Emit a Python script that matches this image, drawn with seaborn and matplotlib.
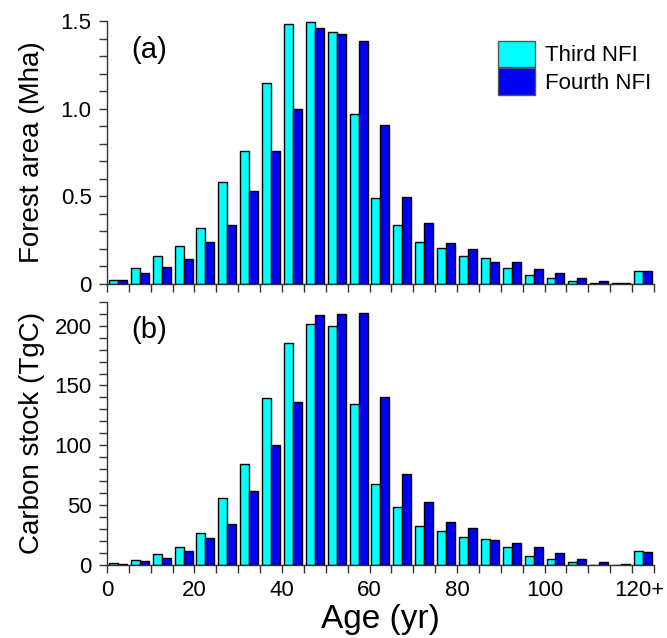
import numpy as np
import pandas as pd
import matplotlib
matplotlib.use('Agg')
import matplotlib.pyplot as plt
import matplotlib.transforms as mtransforms
from matplotlib.ticker import MultipleLocator, FixedLocator
import seaborn as sns

# age classes (5-yr bins, last one is 120+)
age_class = ['0-5', '5-10', '10-15', '15-20', '20-25', '25-30', '30-35', '35-40', '40-45', '45-50',
             '50-55', '55-60', '60-65', '65-70', '70-75', '75-80', '80-85', '85-90', '90-95', '95-100',
             '100-105', '105-110', '110-115', '115-120', '120+']

# forest area (Mha)
area_third = [0.02, 0.09, 0.16, 0.215, 0.32, 0.58, 0.76, 1.145, 1.48, 1.495, 1.435, 0.97, 0.49,
              0.336, 0.237, 0.203, 0.158, 0.148, 0.089, 0.051, 0.034, 0.017, 0.004, 0.004, 0.072]
area_fourth = [0.02, 0.065, 0.097, 0.144, 0.237, 0.334, 0.532, 0.758, 0.999, 1.458, 1.428, 1.384, 0.909,
               0.496, 0.346, 0.234, 0.199, 0.125, 0.125, 0.087, 0.063, 0.032, 0.015, 0.004, 0.072]

# carbon stock (TgC)
carbon_third = [1.4, 3.9, 8.9, 15.3, 26.9, 55.8, 84.2, 139.7, 185.3, 201.1, 199.4, 134.4, 67.5,
                48.6, 32.2, 28.6, 23.1, 21.4, 15.0, 7.2, 5.0, 2.5, 0.3, 0.3, 11.4]
carbon_fourth = [0.8, 3.3, 6.1, 11.9, 22.2, 34.2, 61.7, 100.6, 136.4, 209.2, 209.7, 210.6, 140.6,
                 75.8, 52.5, 35.6, 30.6, 20.8, 18.3, 14.7, 9.7, 5.0, 2.2, 0.6, 10.6]

inventories = ['Third NFI', 'Fourth NFI']
colors = ['#00FFFF', '#0000F5']

df = pd.DataFrame({
    'age': age_class * 2,
    'inv': [inventories[0]] * len(age_class) + [inventories[1]] * len(age_class),
    'area': area_third + area_fourth,
    'carbon': carbon_third + carbon_fourth,
})

sns.set_style('ticks')
plt.rcParams['font.family'] = ['Liberation Sans', 'DejaVu Sans']
plt.rcParams['text.color'] = 'black'
plt.rcParams['axes.labelcolor'] = 'black'
plt.rcParams['xtick.color'] = 'black'
plt.rcParams['ytick.color'] = 'black'

fig = plt.figure(figsize=(6.67, 6.38), dpi=100)
ax_a = fig.add_axes([0.1604, 0.5549, 0.820, 0.4122])
ax_b = fig.add_axes([0.1604, 0.1144, 0.820, 0.4127])

sns.barplot(data=df, x='age', y='area', hue='inv', palette=colors, order=age_class,
            hue_order=inventories, width=0.82, saturation=1, edgecolor='black', linewidth=1,
            ax=ax_a, errorbar=None)
sns.barplot(data=df, x='age', y='carbon', hue='inv', palette=colors, order=age_class,
            hue_order=inventories, width=0.82, saturation=1, edgecolor='black', linewidth=1,
            ax=ax_b, errorbar=None, legend=False)

n = len(age_class)
major_pos = [-0.5 + 4 * k for k in range(7)]
major_lab = ['0', '20', '40', '60', '80', '100', '120+']

for ax in (ax_a, ax_b):
    sns.despine(ax=ax)
    ax.set_xlim(-0.5, n - 0.5)
    ax.xaxis.set_major_locator(FixedLocator(major_pos))
    ax.xaxis.set_minor_locator(FixedLocator([k - 0.5 for k in range(n + 1)]))
    ax.tick_params(axis='both', which='both', direction='out', length=6, width=1, color='#333333')
    ax.tick_params(axis='both', which='major', labelsize=16, pad=5, labelcolor='black')
    for s in ('left', 'bottom'):
        ax.spines[s].set_linewidth(1)
        ax.spines[s].set_color('#333333')
    ax.set_xlabel('')

ax_a.set_xticklabels([])
ax_b.set_xticklabels(major_lab)
# nudge "120+" so the number sits on the tick
lbl = ax_b.get_xticklabels()[-1]
lbl.set_transform(lbl.get_transform() + mtransforms.ScaledTranslation(7 / 100, 0, fig.dpi_scale_trans))

ax_a.set_ylim(0, 1.5)
ax_a.set_yticks([0, 0.5, 1.0, 1.5])
ax_a.set_yticklabels(['0', '0.5', '1.0', '1.5'])
ax_a.yaxis.set_minor_locator(MultipleLocator(0.1))

ax_b.set_ylim(0, 220)
ax_b.set_yticks([0, 50, 100, 150, 200])
ax_b.set_yticklabels(['0', '50', '100', '150', '200'])
ax_b.yaxis.set_minor_locator(MultipleLocator(10))

ax_a.set_ylabel('Forest area (Mha)', fontsize=20)
ax_b.set_ylabel('Carbon stock (TgC)', fontsize=20)
ax_a.yaxis.set_label_coords(-0.113, 0.5)
ax_b.yaxis.set_label_coords(-0.113, 0.5)
ax_b.set_xlabel('Age (yr)', fontsize=24, labelpad=2)

ax_a.text(0.077, 0.89, '(a)', transform=ax_a.transAxes, fontsize=21, ha='center', va='center')
ax_b.text(0.077, 0.893, '(b)', transform=ax_b.transAxes, fontsize=21, ha='center', va='center')

leg = ax_a.legend(loc='upper left', bbox_to_anchor=(0.715, 0.925), frameon=False, fontsize=16,
                  handlelength=1.65, handleheight=1.45, labelspacing=0.05, handletextpad=0.45,
                  borderpad=0, borderaxespad=0)
for h in leg.legend_handles:
    h.set_edgecolor('#555555')

fig.savefig('out.png', dpi=100)
